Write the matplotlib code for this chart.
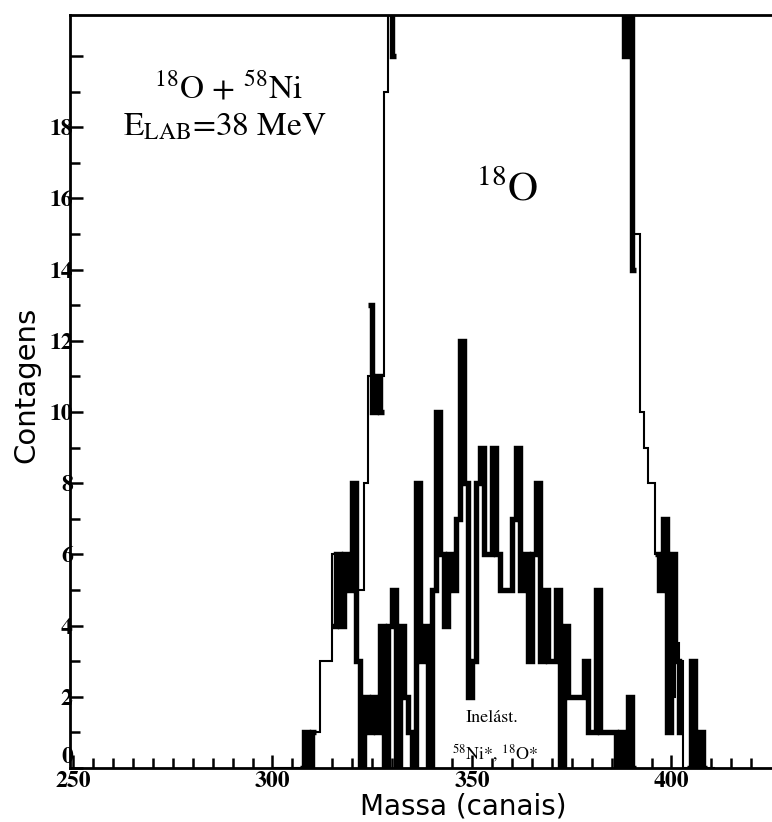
import numpy as np
import matplotlib
matplotlib.use('Agg')
import matplotlib.pyplot as plt

plt.rcParams['mathtext.fontset'] = 'stix'

# ---------------- data (one value per channel, first channel = 300) ----------------
canal0 = 300

# thin line: elastic spectrum (values > 21 lie above the frame)
elastico = [0, 0, 0, 0, 0, 0, 0, 0,            # 300-307
            1, 1, 1, 1,                        # 308-311
            3, 3, 3,                           # 312-314
            6, 6, 6, 6,                        # 315-318
            5, 5, 5, 5,                        # 319-322
            8,                                 # 323
            11, 11, 11, 11,                    # 324-327
            19,                                # 328
            26, 34, 45, 58, 74, 92, 112, 133, 155, 176,       # 329-338 (off scale)
            196, 214, 230, 244, 255, 264, 270, 274, 276, 277,
            276, 273, 269, 263, 256, 248, 239, 229, 218, 207,
            195, 183, 171, 159, 147, 135, 124, 113, 103, 93,
            84, 76, 68, 61, 55, 49, 44, 40, 36, 33,
            30, 28, 26, 25, 24, 23, 23, 22, 22, 22,
            22,                                # 389
            15, 15, 10, 9, 8, 8, 6, 6, 6, 6, 2, 3.5, 3,   # 390-402
            0, 0, 0, 0, 0, 0, 0, 0]            # 403-410

nan = np.nan
# thick line: inelastic spectrum
inelastico = [nan, nan, nan, nan, nan, nan, nan,   # 300-306
              0, 1, 0, 1,                          # 307-310
              nan, nan, nan, nan,                  # 311-314
              4, 6, 4, 6, 5, 8, 3, 0, 2, 1,        # 315-324
              2, 1, 4, 0, 4, 5, 0, 4, 2, 1,        # 325-334
              0, 8, 3, 4, 0, 5, 10, 6, 4, 6,       # 335-344
              5, 7, 12, 8, 2, 3, 8, 9, 6, 6,       # 345-354
              9, 6, 5, 5, 5, 7, 9, 5, 6, 3,        # 355-364
              6, 8, 3, 5, 3, 3, 5, 0, 4, 2,        # 365-374
              2, 2, 2, 3, 1, 1, 5, 1, 1, 1,        # 375-384
              1, 0, 1, 0, 2, 0,                    # 385-390
              nan, nan, nan, nan, nan,             # 391-395
              6, 5, 7, 1, 6, 3, 1,                 # 396-402
              nan,                                 # 403
              0, 3, 0, 1, 0,                       # 404-408
              nan, nan]                            # 409-410

# thick pieces on the flanks of the elastic peak
bordas_canal = [324, 325, 326, 327, 329, 330, 387, 388, 389, 390]
bordas_valor = [13, 10, 11, 10, 30, 20, 30, 20, 30, 14]

x_ticks_major = [250, 300, 350, 400]
y_ticks_major = [0, 2, 4, 6, 8, 10, 12, 14, 16, 18, 20]
y_tick_labels = ['0', '2', '4', '6', '8', '10', '12', '14', '16', '18', '']

# ---------------- figure ----------------
W, H = 772, 822
fig = plt.figure(figsize=(W / 100, H / 100), dpi=100)
ax = fig.add_axes([70 / W, 54 / H, 1 - 70 / W, (768 - 15) / H])

ax.set_xlim(249.25, 425.2)
ax.set_ylim(0, 21.15)


def passos(vals, lw):
    v = np.asarray(vals, dtype=float)
    x = np.arange(canal0, canal0 + len(v) + 1)
    y = np.append(v, np.nan)
    ax.step(x, y, where='post', color='black', lw=lw,
            solid_joinstyle='miter', solid_capstyle='butt')


bordas = np.full(len(elastico), np.nan)
for c, v in zip(bordas_canal, bordas_valor):
    bordas[c - canal0] = v

passos(elastico, 1.5)
passos(inelastico, 3.9)
passos(bordas, 3.9)

# axes styling
for s in ['left', 'bottom', 'top']:
    ax.spines[s].set_linewidth(2.0)
ax.spines['right'].set_visible(False)

ax.set_xticks(x_ticks_major)
ax.set_xticks(np.arange(255, 425, 5), minor=True)
ax.set_yticks(y_ticks_major)
ax.set_yticklabels(y_tick_labels)
ax.set_yticks(np.arange(1, 21, 2), minor=True)

ax.tick_params(axis='both', which='major', direction='in', length=9.5, width=1.8)
ax.tick_params(axis='both', which='minor', direction='in', length=7, width=1.8)
ax.tick_params(axis='x', which='major', pad=2)
ax.tick_params(axis='y', which='major', pad=-2)
ax.tick_params(right=False, top=False, which='both')

for lab in ax.get_xticklabels() + ax.get_yticklabels():
    lab.set_fontfamily('STIXGeneral')
    lab.set_fontweight('bold')
    lab.set_fontsize(17)
# the "0" label sits just above the corner, as in the original
ax.get_yticklabels()[0].set_va('bottom')

# axis titles
fig.text(463 / W, 1 - 806 / H, 'Massa (canais)', ha='center', va='center',
         fontsize=20, family='DejaVu Sans')
fig.text(26 / W, 1 - 385 / H, 'Contagens', ha='center', va='center',
         rotation=90, fontsize=21, family='DejaVu Sans')

# annotations
ax.text(289, 18.8, r'$^{18}$O + $^{58}$Ni', fontsize=24, family='STIXGeneral',
        ha='center', va='baseline')
ax.text(288, 17.77, r'E$_{\mathrm{LAB}}$=38 MeV', fontsize=24, family='STIXGeneral',
        ha='center', va='baseline')
ax.text(358.75, 15.94, r'$^{18}$O', fontsize=30, family='STIXGeneral',
        ha='center', va='baseline')
ax.text(355, 1.29, 'Inelást.', fontsize=13, family='STIXGeneral',
        ha='center', va='baseline')
ax.text(355.75, 0.25, r'$^{58}$Ni*, $^{18}$O*', fontsize=13, family='STIXGeneral',
        ha='center', va='baseline')

fig.savefig('out.png', dpi=100, facecolor='white')
